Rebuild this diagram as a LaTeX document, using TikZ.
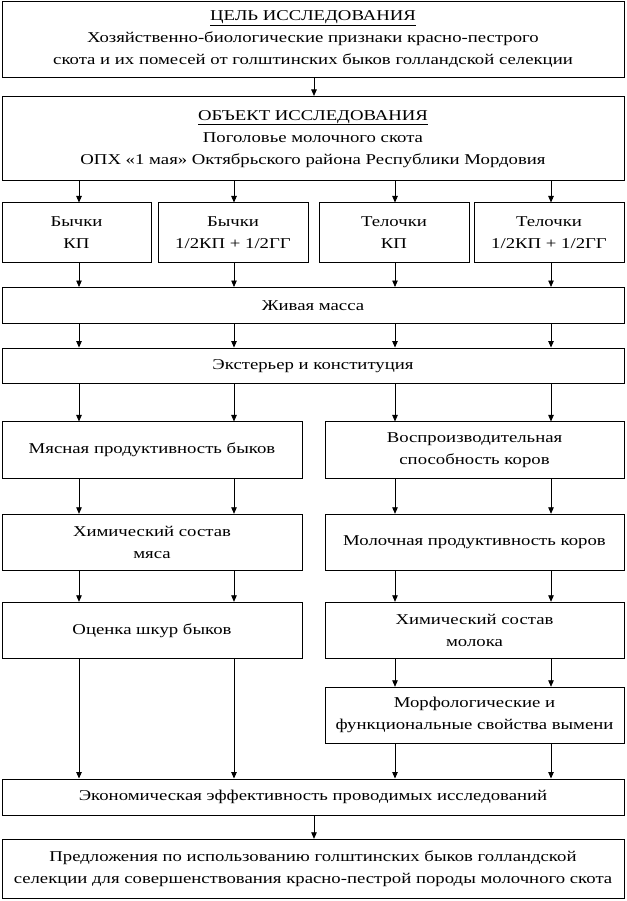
\documentclass[tikz,border=0pt]{standalone}
\usepackage{fontspec}
\setmainfont{Liberation Serif}[FakeStretch=1.25]
\usetikzlibrary{arrows.meta,backgrounds}
\newcommand\myfs{\fontsize{15}{22}\selectfont}
\begin{document}
\begin{tikzpicture}[x=1pt,y=-1pt,
  box/.style={draw, line width=1pt, fill=white, inner sep=0pt, align=center, font=\myfs},
  arr/.style={line width=0.8pt, -{Triangle[length=6.5pt,width=5.5pt]}}]
\useasboundingbox (0,0) rectangle (626,901);
\fill[white] (0,0) rectangle (626,901);
\coordinate (c1) at (79,0);
\coordinate (c2) at (234,0);
\coordinate (c3) at (395,0);
\coordinate (c4) at (551,0);
\coordinate (cm) at (314,0);

\node[box, minimum width=622pt, minimum height=75.5pt] (goal) at (313,39.3)
  {\underline{ЦЕЛЬ ИССЛЕДОВАНИЯ}\\Хозяйственно-биологические признаки красно-пестрого\\скота и их помесей от голштинских быков голландской селекции};
\node[box, minimum width=622pt, minimum height=84.5pt] (obj) at (313,138.7)
  {\underline{ОБЪЕКТ ИССЛЕДОВАНИЯ}\\Поголовье молочного скота\\ОПХ «1 мая» Октябрьского района Республики Мордовия};

\node[box, minimum width=149pt, minimum height=59pt] (b1) at (76.5,232.5) {Бычки\\КП};
\node[box, minimum width=150pt, minimum height=59pt] (b2) at (233,232.5) {Бычки\\1/2КП + 1/2ГГ};
\node[box, minimum width=150pt, minimum height=59pt] (b3) at (394,232.5) {Телочки\\КП};
\node[box, minimum width=150pt, minimum height=59pt] (b4) at (549,232.5) {Телочки\\1/2КП + 1/2ГГ};

\node[box, minimum width=622pt, minimum height=35.8pt] (mass) at (313,305.4) {Живая масса};
\node[box, minimum width=622pt, minimum height=35.3pt] (ext) at (313,365.7) {Экстерьер и конституция};

\node[box, minimum width=300pt, minimum height=56.5pt] (l1) at (152,450.2) {Мясная продуктивность быков};
\node[box, minimum width=299pt, minimum height=56.5pt] (r1) at (474.5,450.2) {Воспроизводительная\\способность коров};
\node[box, minimum width=300pt, minimum height=56.4pt] (l2) at (152,542.5) {Химический состав\\мяса};
\node[box, minimum width=299pt, minimum height=56.4pt] (r2) at (474.5,542.5) {Молочная продуктивность коров};
\node[box, minimum width=300pt, minimum height=56pt] (l3) at (152,630.3) {Оценка шкур быков};
\node[box, minimum width=299pt, minimum height=56pt] (r3) at (474.5,630.3) {Химический состав\\молока};
\node[box, minimum width=299pt, minimum height=56pt] (r4) at (474.5,715.3) {Морфологические и\\функциональные свойства вымени};

\node[box, minimum width=622pt, minimum height=36pt] (econ) at (313,797) {Экономическая эффективность проводимых исследований};
\node[box, minimum width=622pt, minimum height=59pt] (prop) at (313,868.8)
  {Предложения по использованию голштинских быков голландской\\селекции для совершенствования красно-пестрой породы молочного скота};

\begin{scope}[on background layer]
\draw[arr] (obj.south -| cm) -- (econ.north -| cm);
\end{scope}

\draw[arr] (goal.south -| cm) -- (obj.north -| cm);
% to row boxes
\draw[arr] (obj.south -| c1) -- (b1.north -| c1);
\draw[arr] (obj.south -| c2) -- (b2.north -| c2);
\draw[arr] (obj.south -| c3) -- (b3.north -| c3);
\draw[arr] (obj.south -| c4) -- (b4.north -| c4);
% to mass
\draw[arr] (b1.south -| c1) -- (mass.north -| c1);
\draw[arr] (b2.south -| c2) -- (mass.north -| c2);
\draw[arr] (b3.south -| c3) -- (mass.north -| c3);
\draw[arr] (b4.south -| c4) -- (mass.north -| c4);
% to ext
\draw[arr] (mass.south -| c1) -- (ext.north -| c1);
\draw[arr] (mass.south -| c2) -- (ext.north -| c2);
\draw[arr] (mass.south -| c3) -- (ext.north -| c3);
\draw[arr] (mass.south -| c4) -- (ext.north -| c4);
% to columns
\draw[arr] (ext.south -| c1) -- (l1.north -| c1);
\draw[arr] (ext.south -| c2) -- (l1.north -| c2);
\draw[arr] (ext.south -| c3) -- (r1.north -| c3);
\draw[arr] (ext.south -| c4) -- (r1.north -| c4);
\draw[arr] (l1.south -| c1) -- (l2.north -| c1);
\draw[arr] (l1.south -| c2) -- (l2.north -| c2);
\draw[arr] (r1.south -| c3) -- (r2.north -| c3);
\draw[arr] (r1.south -| c4) -- (r2.north -| c4);
\draw[arr] (l2.south -| c1) -- (l3.north -| c1);
\draw[arr] (l2.south -| c2) -- (l3.north -| c2);
\draw[arr] (r2.south -| c3) -- (r3.north -| c3);
\draw[arr] (r2.south -| c4) -- (r3.north -| c4);
\draw[arr] (r3.south -| c3) -- (r4.north -| c3);
\draw[arr] (r3.south -| c4) -- (r4.north -| c4);
% to econ
\draw[arr] (l3.south -| c1) -- (econ.north -| c1);
\draw[arr] (l3.south -| c2) -- (econ.north -| c2);
\draw[arr] (r4.south -| c3) -- (econ.north -| c3);
\draw[arr] (r4.south -| c4) -- (econ.north -| c4);
\draw[arr] (econ.south -| cm) -- (prop.north -| cm);
\end{tikzpicture}
\end{document}
